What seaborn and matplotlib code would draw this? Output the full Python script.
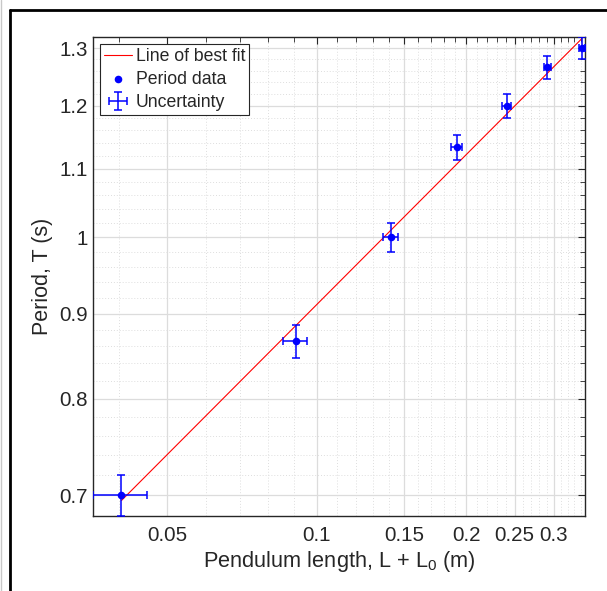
import numpy as np
import pandas as pd
import matplotlib
matplotlib.use("Agg")
import matplotlib.pyplot as plt
from matplotlib.ticker import FixedLocator, FixedFormatter, NullFormatter
from matplotlib.lines import Line2D
import seaborn as sns

# Measured pendulum data
length_m = [0.0405, 0.0907, 0.1409, 0.1914, 0.2413, 0.2910, 0.3415]
period_s = [0.700, 0.866, 1.000, 1.133, 1.200, 1.266, 1.300]
length_err = [0.005] * 7
period_err = [0.02] * 7

# Power-law fit T = A * L^B
fit_prefactor = 1.818
fit_exponent = 0.30

x_major = [0.05, 0.1, 0.15, 0.2, 0.25, 0.3]
x_major_labels = ["0.05", "0.1", "0.15", "0.2", "0.25", "0.3"]
x_minor = [0.04, 0.06, 0.07, 0.08, 0.09, 0.11, 0.12, 0.13, 0.14,
           0.16, 0.17, 0.18, 0.19, 0.21, 0.22, 0.23, 0.24,
           0.26, 0.27, 0.28, 0.29, 0.31, 0.32, 0.33, 0.34]
y_major = [0.7, 0.8, 0.9, 1.0, 1.1, 1.2, 1.3]
y_major_labels = ["0.7", "0.8", "0.9", "1", "1.1", "1.2", "1.3"]
y_minor = [0.68, 0.72, 0.74, 0.76, 0.78, 0.82, 0.84, 0.86, 0.88,
           0.92, 0.94, 0.96, 0.98, 1.02, 1.04, 1.06, 1.08,
           1.12, 1.14, 1.16, 1.18, 1.22, 1.24, 1.26, 1.28, 1.32]

sns.set_style("white")
plt.rcParams["font.family"] = ["Liberation Sans", "DejaVu Sans"]
plt.rcParams["mathtext.default"] = "regular"

text_col = "#262626"

df = pd.DataFrame({"L": length_m, "T": period_s})
fit_x = np.array([min(length_m), max(length_m)])
fit_df = pd.DataFrame({"L": fit_x, "T": fit_prefactor * fit_x ** fit_exponent})

fig = plt.figure(figsize=(6.07, 5.91), dpi=100)
ax = fig.add_axes([93 / 607, 1 - 516 / 591, (585 - 93) / 607, (516 - 37) / 591])

ax.set_xscale("log")
ax.set_yscale("log")

sns.lineplot(data=fit_df, x="L", y="T", ax=ax, color="red", linewidth=0.8,
             label="Line of best fit", legend=False)
sns.scatterplot(data=df, x="L", y="T", ax=ax, color="blue", s=30,
                edgecolor="blue", linewidth=0, label="Period data",
                legend=False, zorder=4)
eb = ax.errorbar(length_m, period_s, xerr=length_err, yerr=period_err,
                 fmt="none", ecolor="blue", elinewidth=1.1, capsize=3,
                 capthick=1.1, label="Uncertainty", zorder=3)

ax.set_xlim(min(length_m) - length_err[0], max(length_m) + length_err[-1])
ax.set_ylim(min(period_s) - period_err[0], max(period_s) + period_err[-1])

ax.xaxis.set_major_locator(FixedLocator(x_major))
ax.xaxis.set_major_formatter(FixedFormatter(x_major_labels))
ax.xaxis.set_minor_locator(FixedLocator(x_minor))
ax.xaxis.set_minor_formatter(NullFormatter())
ax.yaxis.set_major_locator(FixedLocator(y_major))
ax.yaxis.set_major_formatter(FixedFormatter(y_major_labels))
ax.yaxis.set_minor_locator(FixedLocator(y_minor))
ax.yaxis.set_minor_formatter(NullFormatter())

ax.grid(True, which="major", color="#dcdcdc", linewidth=0.9, linestyle="-")
ax.grid(True, which="minor", color="#dedede", linewidth=0.7, linestyle=(0, (1, 2)))
ax.set_axisbelow(True)

ax.tick_params(which="both", direction="in", top=True, right=True,
               colors=text_col, labelsize=14.8)
ax.tick_params(which="major", length=5, width=0.8, pad=7)
ax.tick_params(which="minor", length=3.5, width=0.6)
ax.tick_params(axis="y", which="major", pad=4)
for s in ax.spines.values():
    s.set_color(text_col)
    s.set_linewidth(1.0)

ax.set_xlabel("Pendulum length, L + L$_0$ (m)", fontsize=15.7, color=text_col,
              labelpad=3)
ax.set_ylabel("Period, T (s)", fontsize=15.5, color=text_col, labelpad=4)

handles, labels = ax.get_legend_handles_labels()
order = ["Line of best fit", "Period data", "Uncertainty"]
hmap = dict(zip(labels, handles))
leg = ax.legend([hmap[k] for k in order], order, loc="upper left",
                fontsize=12.7, frameon=True, fancybox=False, framealpha=1,
                edgecolor=text_col, borderpad=0.22, labelspacing=0.35,
                handlelength=1.6, handletextpad=0.2, borderaxespad=0.4)
leg.get_frame().set_linewidth(0.8)

# Outer window frame lines
fig.add_artist(Line2D([1.5 / 607, 1.5 / 607], [0, 1], color="#c8c8c8",
                      linewidth=1.0, transform=fig.transFigure))
fig.add_artist(Line2D([9.5 / 607, 9.5 / 607], [0, 1 - 9.5 / 591], color="black",
                      linewidth=2.0, transform=fig.transFigure))
fig.add_artist(Line2D([9.5 / 607, 1], [1 - 9.5 / 591, 1 - 9.5 / 591], color="black",
                      linewidth=2.0, transform=fig.transFigure))

fig.savefig("out.png", dpi=100, facecolor="white")
